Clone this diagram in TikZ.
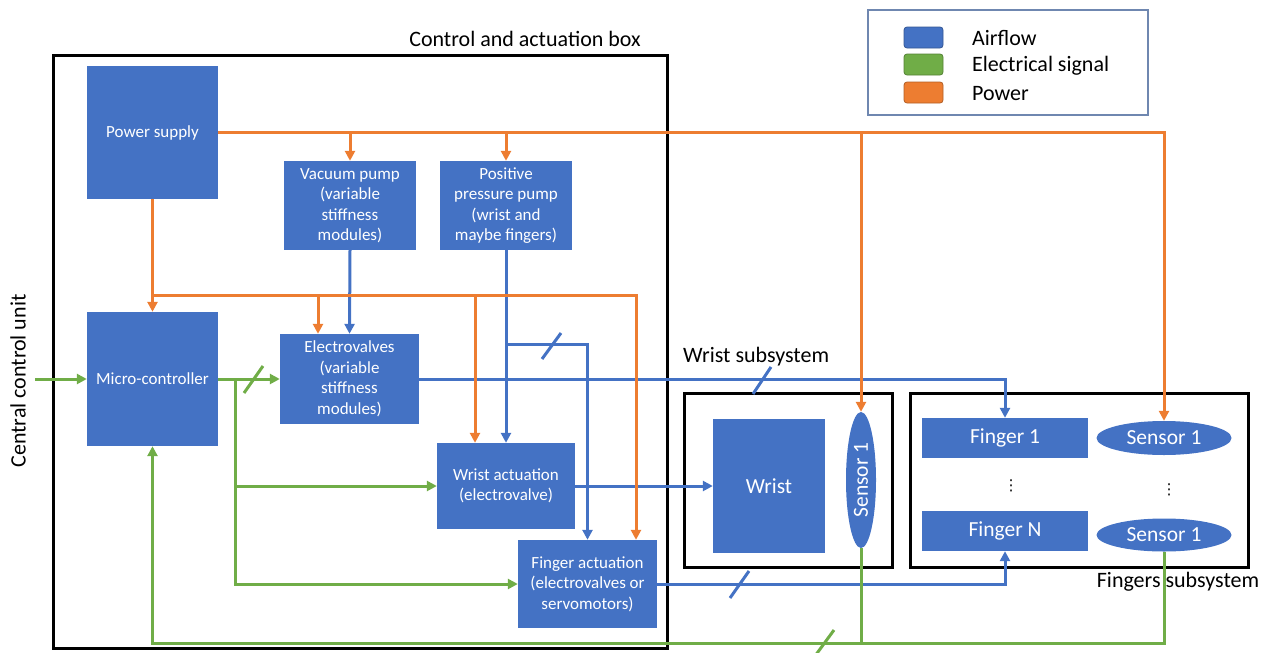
\documentclass[tikz,border=0pt]{standalone}
\usepackage{fontspec}
\setmainfont{Carlito}
\newfontfamily\symfont{DejaVu Sans}
\usetikzlibrary{arrows.meta,shapes.geometric}
\definecolor{air}{HTML}{4472C4}
\definecolor{sig}{HTML}{70AD47}
\definecolor{pow}{HTML}{ED7D31}
\definecolor{legframe}{HTML}{6F87B0}

\begin{document}
\begin{tikzpicture}[x=1pt,y=-1pt,
  blk/.style={fill=air, text=white, inner sep=0pt, align=center,
              font=\fontsize{17}{20.5}\selectfont},
  bigblk/.style={fill=air, text=white, inner sep=0pt, align=center,
              font=\fontsize{21.5}{25}\selectfont},
  sens/.style={ellipse, fill=air, text=white, inner sep=0pt,
              font=\fontsize{21.5}{25}\selectfont},
  frame/.style={draw=black, line width=3pt},
  lbl/.style={font=\fontsize{22}{26}\selectfont, inner sep=0pt},
  vdots/.style={font=\symfont\fontsize{15}{18}\selectfont, inner sep=0pt},
  tip/.style={-{Triangle[length=10pt,width=10pt]}},
  airline/.style={draw=air, line width=3pt},
  sigline/.style={draw=sig, line width=3pt},
  powline/.style={draw=pow, line width=3pt},
  swatch/.style={rounded corners=3pt, line width=0.8pt},
]
\useasboundingbox (0,0) rectangle (1266,653);

% ---- enclosures ----
\draw[frame] (53,55) rectangle (667,648);
\node[lbl] (cablbl) at (525,39) {Control and actuation box};
\draw[frame] (684,393) rectangle (892,567);
\node[lbl, anchor=west] (wslbl) at (683,357) {Wrist subsystem};
\draw[frame] (910,393) rectangle (1248,567);
\node[lbl] (fslbl) at (1178,582) {Fingers subsystem};

\node[lbl, rotate=90] (ccu) at (18,381) {Central control unit};

% ---- legend ----
\draw[draw=legframe, line width=1.2pt] (868,10) rectangle (1148,115);
\draw[swatch, fill=air, draw=air!75!black] (904,27) rectangle (943,48);
\draw[swatch, fill=sig, draw=sig!75!black] (904,54) rectangle (943,75);
\draw[swatch, fill=pow, draw=pow!75!black] (904,82) rectangle (943,103);
\node[lbl, anchor=west] (lgair) at (972,38) {Airflow};
\node[lbl, anchor=west] (lgsig) at (972,66) {Electrical signal};
\node[lbl, anchor=west] (lgpow) at (972,94) {Power};

% ---- control and actuation blocks ----
\node[blk, minimum width=131, minimum height=133] (ps) at (152.5,132.5) {Power supply};
\node[blk, minimum width=132, minimum height=89] (vp) at (350,205.5)
  {Vacuum pump\\(variable\\stiffness\\modules)};
\node[blk, minimum width=132, minimum height=89] (pp) at (506,205.5)
  {Positive\\pressure pump\\(wrist and\\maybe fingers)};
\node[blk, minimum width=131, minimum height=134] (mc) at (152.5,379) {Micro-controller};
\node[blk, minimum width=139, minimum height=90] (ev) at (349.5,379)
  {Electrovalves\\(variable\\stiffness\\modules)};
\node[blk, minimum width=138, minimum height=86] (wa) at (506,486)
  {Wrist actuation\\(electrovalve)};
\node[blk, minimum width=139, minimum height=88] (fa) at (587.5,584)
  {Finger actuation\\(electrovalves or\\servomotors)};

% ---- wrist subsystem ----
\node[bigblk, minimum width=112, minimum height=134] (wr) at (769,486) {Wrist};
\node[sens, minimum width=30, minimum height=136] (ws) at (861,480) {};
\node[text=white, font=\fontsize{21.5}{25}\selectfont, rotate=90, inner sep=0pt]
  (wstxt) at (ws.center) {Sensor 1};

% ---- fingers subsystem ----
\node[bigblk, minimum width=166, minimum height=40] (f1) at (1005,438) {Finger 1};
\node[bigblk, minimum width=166, minimum height=40] (fn) at (1005,531) {Finger N};
\node[sens, minimum width=135, minimum height=34] (s1) at (1164,438) {Sensor 1};
\node[sens, minimum width=135, minimum height=33] (sn) at (1164,535) {Sensor 1};
\node[vdots] (fdots) at (1011,486) {⋮};
\node[vdots] (sdots) at (1169,490) {⋮};

% ---- airflow ----
\draw[airline, tip] (vp.south) -- (ev.north);
\draw[airline, tip] (pp.south) -- (wa.north);
\coordinate (bsplit) at (506,344);
\draw[airline, tip] (bsplit) -| (fa.north);
\draw[airline, tip] (ev.east) -| (f1.north);
\draw[airline, tip] (wa.east) -- (wr.west);
\draw[airline, tip] (fa.east) -| (fn.south);
% bus markers
\draw[airline] (542,359) -- (561,333);
\draw[airline] (753,394) -- (771,367);
\draw[airline] (730,598) -- (749,571);

% ---- electrical signals ----
\coordinate (ccuin) at (35,379);
\coordinate (gbus) at (0,643);
\coordinate (gsplit) at (235,379);
\draw[sigline, tip] (ccuin) -- (mc.west);
\draw[sigline, tip] (mc.east) -- (ev.west);
\draw[sigline, tip] (gsplit) |- (wa.west);
\draw[sigline, tip] (gsplit) |- (fa.west);
\draw[sigline, tip] (ws.south) -- (ws.south |- gbus) -| (mc.south);
\draw[sigline] (sn.south) -- (sn.south |- gbus) -- (ws.south |- gbus);
% bus markers
\draw[sigline] (244,393) -- (263,366);
\draw[sigline] (815,656) -- (834,630);

% ---- power ----
\draw[powline, tip] (ps.east) -| (s1.north);
\draw[powline, tip] (ps.east -| vp.north) -- (vp.north);
\draw[powline, tip] (ps.east -| pp.north) -- (pp.north);
\draw[powline, tip] (ps.east -| ws.north) -- (ws.north);
\draw[powline, tip] (ps.south) -- (mc.north);
\coordinate (pjoin) at (152.5,295);
\coordinate (pend) at (636,295);
\coordinate (pev) at (318,295);
\coordinate (pwa) at (475,295);
\draw[powline, tip] (pjoin) -- (pend) -- (pend |- fa.north);
\draw[powline, tip] (pev) -- (pev |- ev.north);
\draw[powline, tip] (pwa) -- (pwa |- wa.north);
\end{tikzpicture}
\end{document}
